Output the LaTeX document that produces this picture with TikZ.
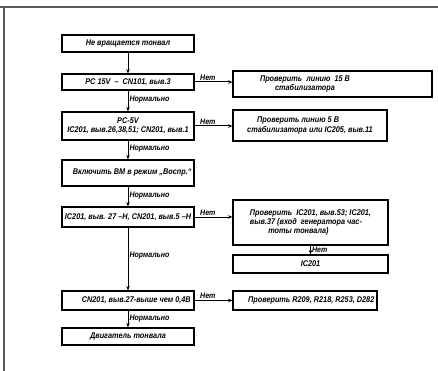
\documentclass[tikz,border=0pt]{standalone}
\usepackage{fontspec}
\setmainfont{Liberation Sans}[FakeStretch=0.88]
\usetikzlibrary{arrows.meta}
\begin{document}
\begin{tikzpicture}[x=1pt,y=-1pt,
  every node/.style={font=\fontsize{8.3}{9.2}\selectfont\bfseries\itshape, inner sep=1pt},
  box/.style={draw, line width=1.1pt, minimum width=#1, anchor=center},
  box/.default=132pt,
  arr/.style={line width=1pt, -{Stealth[length=4.5pt,width=3.5pt]}},
  lbl/.style={font=\fontsize{8}{9}\selectfont\bfseries\itshape}]
\useasboundingbox (0,0) rectangle (438,371);
% frame
\draw[line width=1.2pt, black!65] (0,7) -- (438,7);
\draw[line width=1.2pt, black!65] (4,7) -- (4,371);
% left column
\node[box, minimum height=17pt] (b1) at (128,43.5) {Не вращается тонвал};
\node[box, minimum height=16pt] (b2) at (128,82) {PC 15V \ – \ CN101, выв.3};
\node[box, minimum height=28pt, align=center] (b3) at (128,126) {PC-5V\\IC201, выв.26,38,51; CN201, выв.1};
\node[box, minimum height=26pt] (b4) at (128,173) {\hspace*{1em}Включить ВМ в режим „Воспр.“};
\node[box, minimum height=20pt] (b5) at (128,217) {IC201, выв. 27 –Н, CN201, выв.5 –Н};
\node[box, minimum height=19pt] (b6) at (128,300.5) {\hspace*{2em}CN201, выв.27-выше чем 0,4В};
\node[box, minimum height=17pt] (b7) at (128,336.5) {Двигатель тонвала};
% right column
\node[box=199pt, minimum height=26pt] (r1) at (332.5,84) {};
\node[align=center] (r1t) at (305,84) {Проверить \ линию \ 15 В\\стабилизатора};
\node[box=154pt, minimum height=31pt, align=left] (r2) at (310,125.5) {\hspace*{1.2em}Проверить линию 5 В\\стабилизатора или IC205, выв.11};
\node[box=155pt, minimum height=45pt, align=left] (r3) at (310.5,222.5) {Проверить \ IC201, выв.53; IC201,\\выв.37 (вход \ генератора час-\\\hspace*{2.2em}тоты тонвала)};
\node[box=155pt, minimum height=18pt] (r4) at (310.5,264) {IC201};
\node[box=144pt, minimum height=19pt] (r5) at (305,300.5) {\hspace*{1.5em}Проверить R209, R218, R253, D282};
% vertical arrows
\draw[arr] (b1) -- (b2);
\draw[arr] (b2) -- node[lbl, right, pos=0.45] {Нормально} (b3);
\draw[arr] (b3) -- node[lbl, right, pos=0.45] {Нормально} (b4);
\draw[arr] (b4) -- node[lbl, right, pos=0.45] {Нормально} (b5);
\draw[arr] (b5) -- node[lbl, right, pos=0.45] {Нормально} (b6);
\draw[arr] (b6) -- node[lbl, right, pos=0.45] {Нормально} (b7);
\draw[arr] (r3.south -| r4.north) -- node[lbl, right, pos=0.45] {Нет} (r4.north);
% horizontal arrows
\draw[arr] (b2.east) -- node[lbl, above, pos=0.35] {Нет} (b2.east -| r1.west);
\draw[arr] (b3.east) -- node[lbl, above, pos=0.35] {Нет} (b3.east -| r2.west);
\draw[arr] (b5.east) -- node[lbl, above, pos=0.35] {Нет} (b5.east -| r3.west);
\draw[arr] (b6.east) -- node[lbl, above, pos=0.35] {Нет} (b6.east -| r5.west);
\end{tikzpicture}
\end{document}
